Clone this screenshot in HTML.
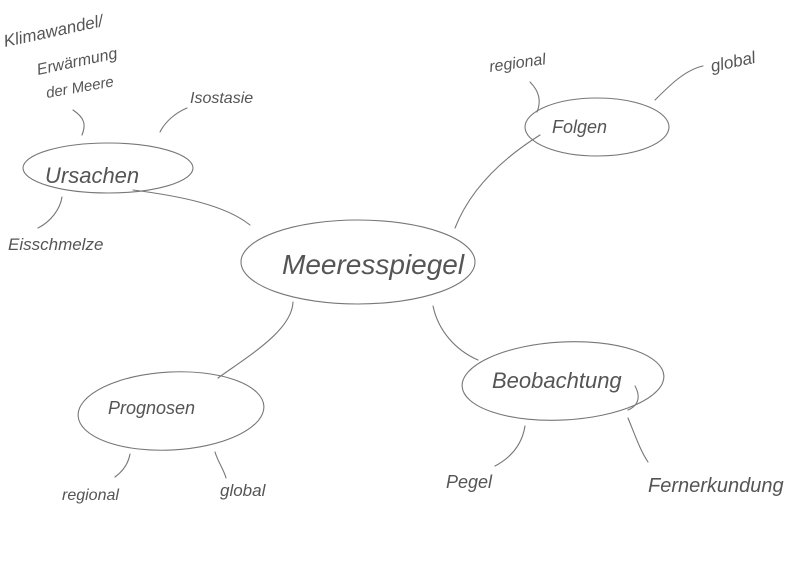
<!DOCTYPE html>
<html><head><meta charset="utf-8"><style>
html,body{margin:0;padding:0;background:#fff;width:806px;height:570px;overflow:hidden}
svg text{font-family:"Liberation Sans",sans-serif;font-style:italic;fill:#555}
</style></head><body>
<svg width="806" height="570" viewBox="0 0 806 570" xmlns="http://www.w3.org/2000/svg">
<g fill="none" stroke="#777" stroke-width="1.1" stroke-linecap="round">
<ellipse cx="358" cy="262" rx="117" ry="42"/>
<ellipse cx="108" cy="168" rx="85" ry="25"/>
<ellipse cx="597" cy="127" rx="72" ry="29"/>
<ellipse cx="563" cy="381" rx="101" ry="39" transform="rotate(-3 563 381)"/>
<ellipse cx="171" cy="411" rx="93" ry="39" transform="rotate(-3 171 411)"/>
<path d="M133,190 C180,196 225,205 250,225"/>
<path d="M455,228 C470,190 500,160 540,135"/>
<path d="M433,306 C438,330 455,350 478,360"/>
<path d="M293,302 C292,330 250,355 218,378"/>
<path d="M73,110 C85,118 86,125 82,135"/>
<path d="M160,132 C165,122 175,113 187,108"/>
<path d="M62,197 C60,210 50,222 38,228"/>
<path d="M530,82 C538,90 542,100 537,112"/>
<path d="M655,100 C670,85 685,70 703,66"/>
<path d="M628,410 C640,405 640,395 635,386"/>
<path d="M525,426 C522,445 510,458 495,466"/>
<path d="M628,418 C635,435 640,450 648,462"/>
<path d="M130,454 C128,465 122,472 115,477"/>
<path d="M215,452 C218,462 224,470 226,478"/>
</g>
<text x="282" y="274" font-size="28">Meeresspiegel</text>
<text x="45" y="183" font-size="22">Ursachen</text>
<text x="552" y="133" font-size="18">Folgen</text>
<text x="492" y="388" font-size="22">Beobachtung</text>
<text x="108" y="414" font-size="18">Prognosen</text>
<text x="5" y="47" font-size="17" transform="rotate(-12 5 47)">Klimawandel/</text>
<text x="38" y="75" font-size="16" transform="rotate(-12 38 75)">Erwärmung</text>
<text x="47" y="98" font-size="15" transform="rotate(-10 47 98)">der Meere</text>
<text x="190" y="103" font-size="16">Isostasie</text>
<text x="8" y="250" font-size="17">Eisschmelze</text>
<text x="490" y="72" font-size="16" transform="rotate(-8 490 72)">regional</text>
<text x="712" y="72" font-size="17" transform="rotate(-12 712 72)">global</text>
<text x="446" y="488" font-size="18">Pegel</text>
<text x="648" y="492" font-size="20">Fernerkundung</text>
<text x="62" y="500" font-size="16">regional</text>
<text x="220" y="496" font-size="17">global</text>
</svg>
</body></html>
